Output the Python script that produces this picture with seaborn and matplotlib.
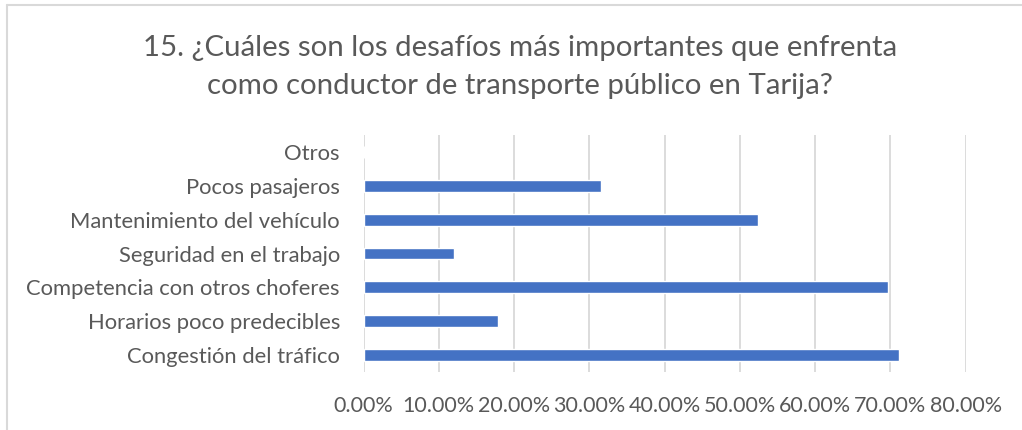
import matplotlib
matplotlib.use("Agg")
import matplotlib.pyplot as plt
import seaborn as sns
import pandas as pd
from matplotlib.lines import Line2D
from matplotlib.ticker import FuncFormatter

# Survey answers (share of drivers, %) listed top to bottom
categories = [
    "Otros",
    "Pocos pasajeros",
    "Mantenimiento del vehículo",
    "Seguridad en el trabajo",
    "Competencia con otros choferes",
    "Horarios poco predecibles",
    "Congestión del tráfico",
]
values = [0.0, 31.55, 52.4, 12.06, 69.68, 17.87, 71.15]
x_ticks = [0, 10, 20, 30, 40, 50, 60, 70, 80]

title_text = ("15. ¿Cuáles son los desafíos más importantes que enfrenta\n"
              "como conductor de transporte público en Tarija?")

sns.set_theme(style="white")
plt.rcParams["font.family"] = ["Lato", "DejaVu Sans"]

text_grey = "#595959"
grid_grey = "#d9d9d9"
bar_blue = "#4472C4"

df = pd.DataFrame({"categoria": categories, "porcentaje": values})

fig = plt.figure(figsize=(10.22, 4.30), dpi=100)
ax = fig.add_axes([0.3557, 0.1349, 0.5892, 0.5511])

sns.barplot(data=df, x="porcentaje", y="categoria", order=categories,
            color=bar_blue, saturation=1, width=0.35, orient="h", ax=ax)

ax.set_xlim(0, 80)
ax.set_xticks(x_ticks)
ax.xaxis.set_major_formatter(FuncFormatter(lambda v, _: f"{v:.2f}%"))
ax.grid(axis="x", color=grid_grey, linewidth=1.3)
ax.set_axisbelow(True)
for s in ax.spines.values():
    s.set_visible(False)
ax.set_xlabel("")
ax.set_ylabel("")
ax.tick_params(axis="x", labelsize=15.5, colors=text_grey, length=0, pad=17)
ax.tick_params(axis="y", labelsize=15.8, colors=text_grey, length=0, pad=17)

fig.text(520 / 1022, 1 - 67 / 430, title_text, ha="center", va="center",
         fontsize=21.2, color=text_grey, linespacing=1.58)

# Light chart-area frame along top and left edges
fig.add_artist(Line2D([7 / 1022, 1.0], [1 - 5 / 430, 1 - 5 / 430],
                      transform=fig.transFigure, color=grid_grey, linewidth=1.5))
fig.add_artist(Line2D([7 / 1022, 7 / 1022], [0.0, 1 - 5 / 430],
                      transform=fig.transFigure, color=grid_grey, linewidth=1.5))

fig.savefig("out.png", dpi=100, facecolor="white")
